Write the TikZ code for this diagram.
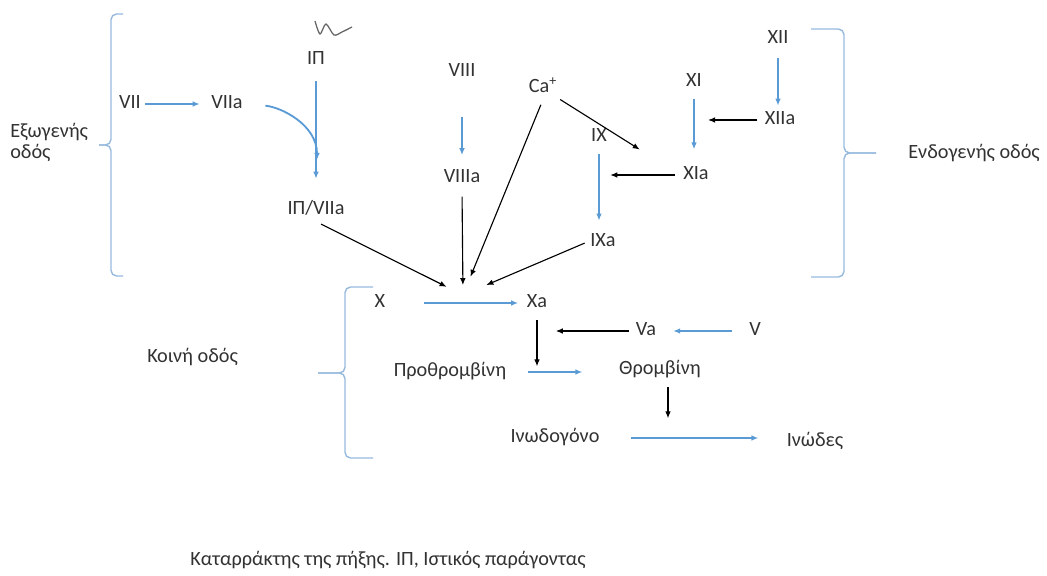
\documentclass[tikz,border=0pt]{standalone}
\usepackage{fontspec}
\setmainfont{Carlito}
\usetikzlibrary{arrows.meta}
\definecolor{arrowblue}{RGB}{91,155,213}
\definecolor{braceblue}{RGB}{150,186,222}
\definecolor{txtgray}{RGB}{50,50,50}
\tikzset{
  factor/.style = {inner sep=2pt, text height=9.5pt, text depth=2.5pt,
    font=\fontsize{14.4}{17}\selectfont, text=txtgray},% paragontas
  pathname/.style = {inner sep=0pt, align=left,
    font=\fontsize{14.4}{15}\selectfont, text=txtgray},% onoma odou
  bluearr/.style = {-{Latex[length=5pt,width=4pt]}, arrowblue, line width=1.3pt},
  blackarr/.style = {-{Latex[length=5pt,width=4pt]}, black, line width=0.8pt},
  bracket/.style = {braceblue, line width=1pt, rounded corners=4pt},
}

\begin{document}
\begin{tikzpicture}[x=0.025cm,y=-0.025cm]
  \useasboundingbox (0,0) rectangle (1047,576);

  % exogenous path
  \node[factor] (vii) at (130,104) {VII};
  \node[factor] (viia) at (227,104) {VIIa};
  \node[factor] (ip) at (316,60) {ΙΠ};
  \node[factor] (ipviia) at (316,210) {ΙΠ/VIIa};
  \coordinate (join) at (317,160);
  \draw[gray!80!black, line width=0.9pt] plot[smooth] coordinates
    {(315,21) (320,34) (326,24) (334,35) (342,32) (352,27)};

  % endogenous path
  \node[factor] (viii) at (462,72) {VIII};
  \node[factor] (viiia) at (462,178) {VIIIa};
  \node[factor] (ca) at (543,88) {Ca\textsuperscript{+}};
  \node[factor] (ix) at (599,137) {IX};
  \node[factor] (ixa) at (603,242) {IXa};
  \node[factor] (xi) at (694,82) {XI};
  \node[factor] (xia) at (696,175) {XIa};
  \node[factor] (xii) at (778,39) {XII};
  \node[factor] (xiia) at (780,120) {XIIa};
  \coordinate (hub) at (463,295);

  % common path
  \node[factor] (x) at (380,303) {X};
  \node[factor] (xa) at (537,303) {Xa};
  \node[factor] (va) at (646,331) {Va};
  \node[factor] (v) at (755,331) {V};
  \node[factor] (proth) at (450,372) {Προθρομβίνη};
  \node[factor] (throm) at (660,370) {Θρομβίνη};
  \node[factor] (fibrino) at (555,438) {Ινωδογόνο};
  \node[factor] (fibres) at (815,442) {Ινώδες};

  % brackets
  \draw[bracket] (123,14) -- (111,14) -- (111,145) -- (99,145);
  \draw[bracket] (99,145) -- (111,145) -- (111,276) -- (123,276);
  \draw[bracket] (811,29) -- (844,29) -- (844,153) -- (876,153);
  \draw[bracket] (876,153) -- (844,153) -- (844,277) -- (811,277);
  \draw[bracket] (373,287) -- (345,287) -- (345,373) -- (318,373);
  \draw[bracket] (318,373) -- (345,373) -- (345,458) -- (373,458);
  \node[pathname, anchor=west] (exo) at (10,142) {Εξωγενής\\οδός};
  \node[pathname, anchor=west] (endo) at (908,153) {Ενδογενής οδός};
  \node[pathname, anchor=west] (common) at (147,357) {Κοινή οδός};
  \node[pathname, anchor=west] (caption) at (190,560)
    {Καταρράκτης της πήξης. ΙΠ, Ιστικός παράγοντας};

  %   exogenous arrows
  \path[bluearr] (vii) edge[shorten <=1pt, shorten >=6pt] (viia);
  \draw[bluearr, shorten <=14pt] (viia.east) to[out=-5,in=90] (join);
  \path[bluearr] (ip.south) edge[shorten <=7pt, shorten >=14pt] (ip.south |- ipviia.north);
  \path[blackarr] (ipviia.south) edge[shorten <=4pt, shorten >=13pt] (hub);
  %   endogenous arrows
  \path[bluearr] (viii.south) edge[shorten <=24pt, shorten >=8pt] (viii.south |- viiia.north);
  \path[blackarr] (viiia.south) edge[shorten <=5pt, shorten >=7pt] (hub);
  \path[blackarr] (ca.south) edge[shorten <=4pt, shorten >=14pt] (hub);
  \path[blackarr] (ca.south east) edge[shorten >=34pt] (xia.west);
  \path[bluearr] (xii.south) edge[shorten <=5pt, shorten >=2pt] (xii.south |- xiia.north);
  \path[blackarr] (xiia.west) edge[shorten <=3pt, shorten >=10pt] (xiia.west -| xi.south);
  \path[bluearr] (xi.south) edge[shorten <=4pt, shorten >=10pt] (xi.south |- xia.north);
  \path[blackarr] (xia.west) edge[shorten <=4pt, shorten >=8pt] (xia.west -| ix.south);
  \path[bluearr] (ix.south) edge[shorten <=4pt, shorten >=7pt] (ix.south |- ixa.north);
  \path[blackarr] (ixa.west) edge[shorten <=2pt, shorten >=18pt] (hub);
  %   common arrows
  \path[bluearr] (x.east) edge[shorten <=25pt, shorten >=4pt] (x.east -| xa.west);
  \path[blackarr] (va.west) edge[shorten <=3pt, shorten >=4pt] (va.west -| xa.east);
  \path[bluearr] (v.west) edge[shorten <=10pt, shorten >=10pt] (va.east);
  \path[blackarr] (xa.south) edge[shorten <=4pt, shorten >=4pt] (xa.south |- proth.east);
  \path[bluearr] (proth.east) edge[shorten <=13pt, shorten >=24pt] (throm.west |- proth.east);
  \path[blackarr] ([xshift=0.2cm]throm.south) edge[shorten <=4pt, shorten >=14pt] ([xshift=0.2cm]throm.south |- fibrino.east);
  \path[bluearr] (fibrino.east) edge[shorten <=20pt, shorten >=18pt] (fibrino.east -| fibres.west);
\end{tikzpicture}
\end{document}
